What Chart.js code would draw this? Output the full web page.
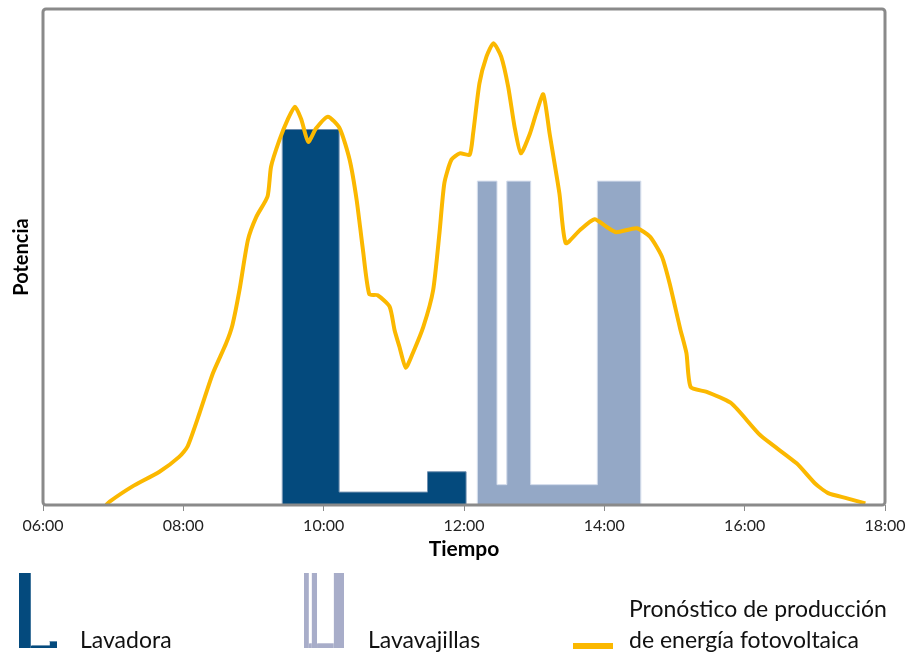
<!DOCTYPE html>
<html>
<head>
<meta charset="utf-8">
<script src="https://cdn.jsdelivr.net/npm/chart.js@4/dist/chart.umd.min.js"></script>
<style>
  html, body { margin: 0; padding: 0; background: #ffffff; }
  #wrap { position: relative; width: 919px; height: 655px; }
</style>
</head>
<body>
<div id="wrap"><canvas id="c" width="919" height="655"></canvas></div>
<script>
// Hour-of-day axis ticks
const tickHours = [6, 8, 10, 12, 14, 16, 18];
const tickLabels = ['06:00', '08:00', '10:00', '12:00', '14:00', '16:00', '18:00'];

// Washing machine: each value holds from its time until the next time
const lavadoraTimes = [9.41, 10.22, 11.48, 12.03];
const lavadoraPower = [75.7, 2.6, 6.7, 0];

// Dishwasher: same step convention
const lavavajillasTimes = [12.19, 12.47, 12.61, 12.95, 13.90, 14.52];
const lavavajillasPower = [65.3, 4.1, 65.3, 4.1, 65.3, 0];

// PV production forecast
const pvHours = [6.90, 6.95, 7.27, 7.66, 7.94, 8.06, 8.23, 8.42, 8.61, 8.70, 8.80, 8.92, 9.04, 9.20,
  9.25, 9.37, 9.49, 9.59, 9.68, 9.78, 9.89, 10.06, 10.23, 10.37, 10.47, 10.56, 10.65, 10.77, 10.94,
  11.01, 11.08, 11.17, 11.27, 11.42, 11.56, 11.65, 11.72, 11.82, 11.94, 12.08, 12.13, 12.22, 12.32,
  12.42, 12.53, 12.63, 12.72, 12.81, 12.94, 13.03, 13.13, 13.22, 13.36, 13.45, 13.65, 13.86, 14.03,
  14.17, 14.46, 14.65, 14.82, 14.93, 15.08, 15.17, 15.23, 15.46, 15.81, 16.22, 16.74, 17.00, 17.19,
  17.46, 17.72];
const pvPower = [0.0, 0.7, 3.7, 6.7, 9.7, 11.8, 18.5, 26.5, 32.6, 36.3, 43.3, 53.4, 58.1, 62.2,
  68.2, 73.6, 77.8, 80.3, 77.8, 73.2, 75.9, 78.3, 75.9, 69.6, 61.5, 51.4, 42.5, 42.3, 40.0,
  35.3, 31.9, 27.7, 30.6, 35.9, 43.3, 54.8, 64.9, 69.6, 70.9, 70.6, 74.9, 85.0, 90.4,
  93.1, 90.4, 84.3, 76.3, 70.9, 74.9, 79.0, 82.8, 74.9, 62.8, 52.8, 55.4, 57.6, 56.1,
  55.0, 55.8, 54.1, 50.1, 44.7, 35.6, 30.6, 23.8, 22.8, 20.5, 14.1, 8.4, 4.4, 2.4,
  1.35, 0.34];

const COL_LAVADORA = '#044a7d';
const COL_LAVAVAJILLAS = '#94a8c6';
const COL_LAVAVAJILLAS_KEY = '#a8adc9';
const COL_PV = '#fbb800';
const COL_FRAME = '#8a8a8a';
const FONT = 'Lato';

// Step profile as points, starting from the baseline so the left edge is outlined too
function stepPoints(times, power) {
  const pts = [{ x: times[0], y: 0 }];
  times.forEach((t, i) => pts.push({ x: t, y: power[i] }));
  return pts;
}

// Grey frame around the plotting area
const framePlugin = {
  id: 'frame',
  afterDatasetsDraw(chart) {
    const { ctx, chartArea: a } = chart;
    ctx.save();
    ctx.strokeStyle = COL_FRAME;
    ctx.lineWidth = 3;
    ctx.beginPath();
    ctx.roundRect(a.left, a.top, a.right - a.left, a.bottom - a.top, 3);
    ctx.stroke();
    ctx.restore();
  }
};

// Miniature of a step profile used as a legend key
function drawStepKey(ctx, times, power, box, color) {
  const t0 = times[0], t1 = times[times.length - 1];
  const vmax = Math.max(...power);
  const px = t => box.x + (t - t0) / (t1 - t0) * box.w;
  ctx.fillStyle = color;
  for (let i = 0; i < times.length - 1; i++) {
    const h = power[i] / vmax * box.h;
    const x0 = px(times[i]), x1 = px(times[i + 1]);
    ctx.fillRect(x0, box.y + box.h - h, x1 - x0, h);
  }
  ctx.strokeStyle = 'rgba(255,255,255,0.8)';
  ctx.lineWidth = 1;
  for (let i = 1; i < times.length - 1; i++) {
    const x = Math.round(px(times[i])) + 0.5;
    const hPrev = power[i - 1] / vmax * box.h, hCur = power[i] / vmax * box.h;
    ctx.beginPath();
    ctx.moveTo(x, box.y + box.h - Math.max(hPrev, hCur));
    ctx.lineTo(x, box.y + box.h - Math.min(hPrev, hCur));
    ctx.stroke();
  }
}

const legendPlugin = {
  id: 'keyLegend',
  afterDraw(chart) {
    const ctx = chart.ctx;
    ctx.save();
    drawStepKey(ctx, lavadoraTimes, lavadoraPower, { x: 19, y: 573, w: 38, h: 75 }, COL_LAVADORA);
    drawStepKey(ctx, lavavajillasTimes, lavavajillasPower, { x: 304, y: 573, w: 40, h: 75 }, COL_LAVAVAJILLAS_KEY);

    ctx.fillStyle = COL_PV;
    ctx.fillRect(573, 643, 40, 6);

    ctx.fillStyle = '#111111';
    ctx.font = '400 23px ' + FONT;
    ctx.textBaseline = 'alphabetic';
    ctx.textAlign = 'left';
    ctx.fillText('Lavadora', 80, 648);
    ctx.fillText('Lavavajillas', 368, 648);
    ctx.fillText('Pronóstico de producción', 629, 617);
    ctx.fillText('de energía fotovoltaica', 629, 648);
    ctx.restore();
  }
};

new Chart(document.getElementById('c'), {
  type: 'line',
  data: {
    datasets: [
      {
        label: 'Pronóstico de producción de energía fotovoltaica',
        data: pvHours.map((h, i) => ({ x: h, y: pvPower[i] })),
        borderColor: COL_PV,
        borderWidth: 4,
        pointRadius: 0,
        tension: 0.2,
        fill: false,
        order: 0
      },
      {
        label: 'Lavadora',
        data: stepPoints(lavadoraTimes, lavadoraPower),
        stepped: true,
        borderColor: '#6f8fb0',
        borderWidth: 1,
        backgroundColor: COL_LAVADORA,
        fill: 'origin',
        pointRadius: 0,
        order: 1
      },
      {
        label: 'Lavavajillas',
        data: stepPoints(lavavajillasTimes, lavavajillasPower),
        stepped: true,
        borderColor: '#d3dceb',
        borderWidth: 1,
        backgroundColor: COL_LAVAVAJILLAS,
        fill: 'origin',
        pointRadius: 0,
        order: 2
      }
    ]
  },
  options: {
    responsive: false,
    animation: false,
    events: [],
    layout: { padding: { top: 9, right: 34, bottom: 90, left: 0 } },
    plugins: { legend: { display: false }, tooltip: { enabled: false } },
    scales: {
      x: {
        type: 'linear',
        min: 6,
        max: 18,
        afterFit(scale) { scale.height = 60; },
        afterBuildTicks(scale) { scale.ticks = tickHours.map(v => ({ value: v })); },
        ticks: {
          callback: v => tickLabels[tickHours.indexOf(v)],
          font: { family: FONT, size: 16 },
          color: '#222222',
          padding: 5,
          maxRotation: 0,
          autoSkip: false
        },
        grid: { drawOnChartArea: false, drawTicks: true, tickLength: 6, color: COL_FRAME, lineWidth: 1 },
        border: { display: false },
        title: {
          display: true,
          text: 'Tiempo',
          font: { family: FONT, size: 21, weight: 'bold' },
          color: '#000000',
          padding: { top: 0, bottom: 3 }
        }
      },
      y: {
        min: 0,
        max: 100,
        afterFit(scale) { scale.width = 43; },
        ticks: { display: false },
        grid: { display: false },
        border: { display: false },
        title: {
          display: true,
          text: 'Potencia',
          font: { family: FONT, size: 20, weight: 'bold' },
          color: '#000000',
          padding: { top: 10, bottom: 0 }
        }
      }
    }
  },
  plugins: [framePlugin, legendPlugin]
});
</script>
</body>
</html>
